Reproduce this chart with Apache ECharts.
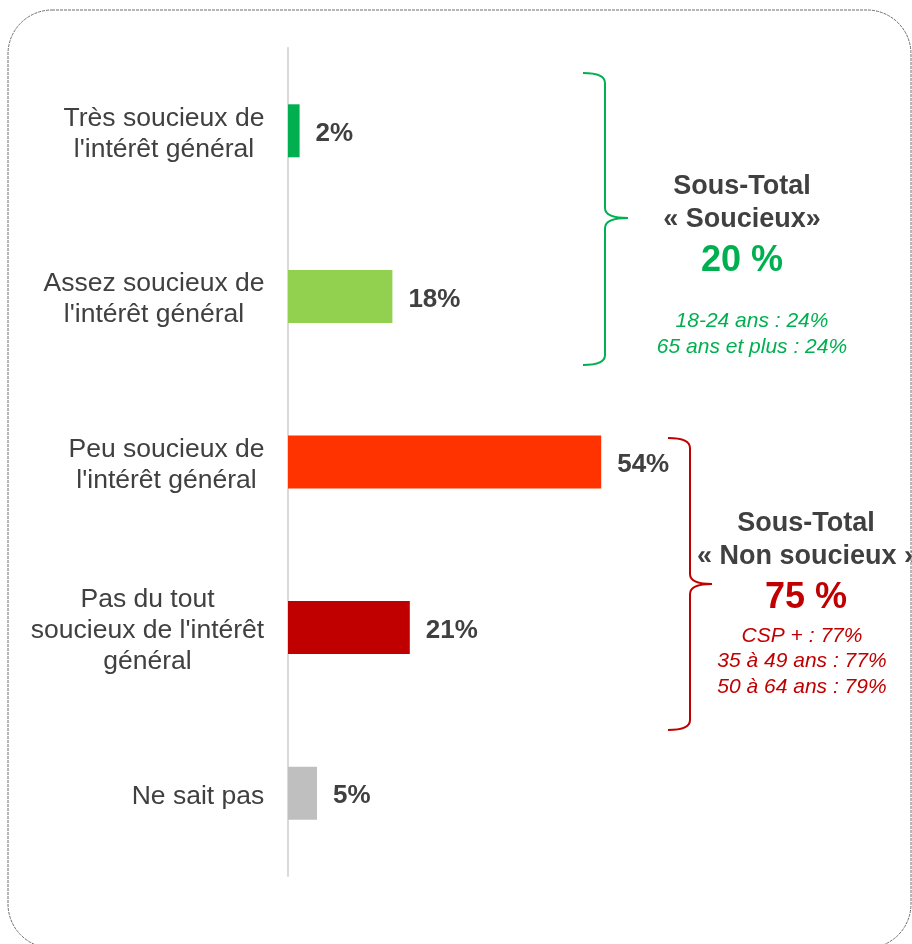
<!DOCTYPE html>
<html>
<head>
<meta charset="utf-8">
<script src="https://cdn.jsdelivr.net/npm/echarts@6/dist/echarts.min.js"></script>
<style>
  html, body { margin: 0; padding: 0; background: #ffffff; }
  #chart { width: 912px; height: 944px; }
</style>
</head>
<body>
<div id="chart"></div>
<script>
// Survey answers, top to bottom
const categories = [
  "Très soucieux de\nl'intérêt général",
  "Assez soucieux de\nl'intérêt général",
  "Peu soucieux de\nl'intérêt général",
  "Pas du tout\nsoucieux de l'intérêt\ngénéral",
  "Ne sait pas"
];
const values = [2, 18, 54, 21, 5];
const barColors = ['#00b050', '#92d050', '#ff3300', '#c00000', '#bfbfbf'];

// Sub-totals shown beside the braces
const positiveTitle = ['Sous-Total', '« Soucieux»'];
const positiveTotal = '20 %';
const positiveDetails = ['18-24 ans : 24%', '65 ans et plus : 24%'];
const negativeTitle = ['Sous-Total', '« Non soucieux »'];
const negativeTotal = '75 %';
const negativeDetails = ['CSP + : 77%', '35 à 49 ans : 77%', '50 à 64 ans : 79%'];

const FONT = '"Liberation Sans", Arial, Helvetica, sans-serif';
const TEXT = '#404040';
const GREEN = '#00b050';
const RED = '#c00000';
const LABEL_SIZE = 26.5;

// Category labels: block right-aligned against the axis, lines centred inside it
const measureCtx = document.createElement('canvas').getContext('2d');
measureCtx.font = LABEL_SIZE + 'px ' + FONT;
const rich = {};
categories.forEach((c, i) => {
  const w = Math.max(...c.split('\n').map(l => measureCtx.measureText(l).width));
  rich['r' + i] = {
    width: Math.ceil(w) + 1, align: 'center',
    fontSize: LABEL_SIZE, lineHeight: 31, fontFamily: FONT, color: TEXT
  };
});

const chart = echarts.init(document.getElementById('chart'), null, { renderer: 'canvas' });

function textEl(text, x, y, size, color, weight, style) {
  return {
    type: 'text', z: 10,
    style: {
      text: text, x: x, y: y,
      textAlign: 'center', textVerticalAlign: 'middle',
      font: (style || 'normal') + ' ' + (weight || 'normal') + ' ' + size + 'px ' + FONT,
      fill: color
    }
  };
}

// Curly brace opening to the left: arms at x0, spine at xs, tip at xt
function brace(x0, xs, xt, yTop, yTip, yBot, color) {
  const st = { fill: 'none', stroke: color, lineWidth: 2 };
  const r = 10;
  const seg = (x1, y1, x2, y2) => ({ type: 'line', z: 10, shape: { x1, y1, x2, y2 }, style: st });
  const curve = (x1, y1, cx, cy, x2, y2) => ({
    type: 'bezierCurve', z: 10,
    shape: { x1, y1, cpx1: cx, cpy1: cy, x2, y2 }, style: st
  });
  return [
    curve(x0, yTop, xs, yTop, xs, yTop + r),
    seg(xs, yTop + r, xs, yTip - r),
    curve(xs, yTip - r, xs, yTip, xt, yTip),
    curve(xt, yTip, xs, yTip, xs, yTip + r),
    seg(xs, yTip + r, xs, yBot - r),
    curve(xs, yBot - r, xs, yBot, x0, yBot)
  ];
}

const graphics = [
  // rounded dashed frame
  {
    type: 'rect', z: 0, silent: true,
    shape: { x: 8, y: 10, width: 903, height: 938, r: 44 },
    style: { fill: 'none', stroke: '#6e6e6e', lineWidth: 1, lineDash: [3, 1] }
  },
  ...brace(583, 605, 628, 73, 218, 365, GREEN),
  ...brace(668, 690, 712, 438, 584, 730, RED),
  textEl(positiveTitle[0], 742, 187, 27, TEXT, 'bold'),
  textEl(positiveTitle[1], 742, 220, 27, TEXT, 'bold'),
  textEl(positiveTotal, 742, 261, 36, GREEN, 'bold'),
  textEl(positiveDetails[0], 752, 321, 21, GREEN, 'normal', 'italic'),
  textEl(positiveDetails[1], 752, 347, 21, GREEN, 'normal', 'italic'),
  textEl(negativeTitle[0], 806, 524, 27, TEXT, 'bold'),
  textEl(negativeTitle[1], 808, 557, 27, TEXT, 'bold'),
  textEl(negativeTotal, 806, 598, 36, RED, 'bold'),
  textEl(negativeDetails[0], 802, 636, 21, RED, 'normal', 'italic'),
  textEl(negativeDetails[1], 802, 661, 21, RED, 'normal', 'italic'),
  textEl(negativeDetails[2], 802, 687, 21, RED, 'normal', 'italic')
];

chart.setOption({
  animation: false,
  backgroundColor: '#ffffff',
  grid: { left: 288, right: 44, top: 48, bottom: 68, containLabel: false },
  xAxis: {
    type: 'value', min: 0, max: 100, show: false,
    splitLine: { show: false }
  },
  yAxis: {
    type: 'category', inverse: true, data: categories,
    axisLine: { show: true, lineStyle: { color: '#d9d9d9', width: 2 } },
    axisTick: { show: false },
    axisLabel: {
      interval: 0, margin: 23, align: 'right',
      padding: [6, 0, 0, 0],
      formatter: function (val, idx) {
        return val.split('\n').map(l => '{r' + idx + '|' + l + '}').join('\n');
      },
      rich: rich
    }
  },
  series: [{
    type: 'bar',
    barWidth: 53,
    data: values.map((v, i) => ({ value: v, itemStyle: { color: barColors[i] } })),
    label: {
      show: true, position: 'right', distance: 16, offset: [0, 3],
      formatter: '{c}%',
      fontFamily: FONT, fontSize: 26, fontWeight: 'bold', color: TEXT
    }
  }],
  graphic: graphics
});
</script>
</body>
</html>
